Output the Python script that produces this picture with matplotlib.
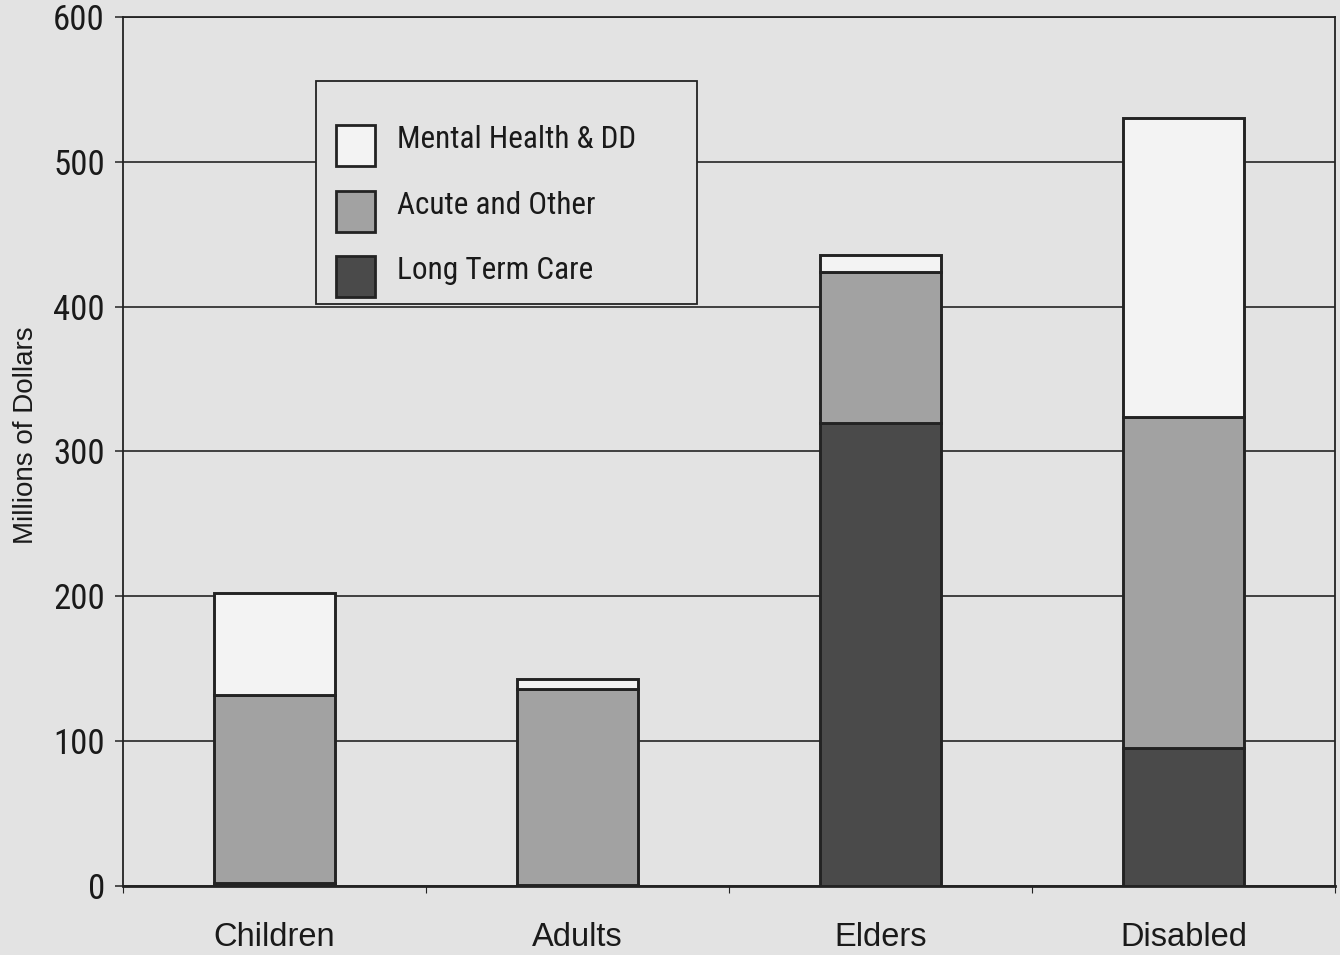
import matplotlib
matplotlib.use("Agg")
import matplotlib.pyplot as plt
from matplotlib import font_manager
from matplotlib.patches import Rectangle
from matplotlib.ticker import FixedLocator
import numpy as np

# Spending by client group, millions of dollars
groups = ["Children", "Adults", "Elders", "Disabled"]
long_term_care = [2, 1, 320, 95]
acute_other = [130, 135, 104, 229]
mental_health_dd = [70, 7, 12, 206]

series_names = ["Mental Health & DD", "Acute and Other", "Long Term Care"]
y_ticks = [0, 100, 200, 300, 400, 500, 600]
y_label = "Millions of Dollars"

installed = {f.name for f in font_manager.fontManager.ttflist}
base_font = "Liberation Sans" if "Liberation Sans" in installed else "DejaVu Sans"

# prefer a condensed face for the tick and legend text
narrow_font = None
for cand in ("Liberation Sans Narrow", "Arial Narrow", "Roboto Condensed",
             "Open Sans Condensed", "Nimbus Sans Narrow"):
    if cand in installed:
        narrow_font = cand
        break

if narrow_font is not None:
    tick_font, tick_size = narrow_font, 25
    legend_font, legend_size = narrow_font, 22.5
else:
    tick_font, tick_size = base_font, 22
    legend_font, legend_size = base_font, 19.5
cat_font, cat_size = base_font, 23.5

plt.rcParams["font.family"] = [base_font, "DejaVu Sans"]

paper = "#e3e3e3"
ink = "#232323"
text_col = "#1a1a1a"
fill_mh = "#f3f3f3"
fill_acute = "#a2a2a2"
fill_ltc = "#4a4a4a"

fig = plt.figure(figsize=(13.4, 9.55), dpi=100, facecolor=paper)
ax = fig.add_axes([0.0918, 0.0723, 0.9045, 0.9099])
ax.set_facecolor(paper)

x = np.arange(len(groups))
width = 0.4
bar_kw = dict(width=width, edgecolor=ink, linewidth=2.1, zorder=3)

ltc = np.array(long_term_care, dtype=float)
acu = np.array(acute_other, dtype=float)
mh = np.array(mental_health_dd, dtype=float)

ax.bar(x, ltc, color=fill_ltc, **bar_kw)
ax.bar(x, acu, bottom=ltc, color=fill_acute, **bar_kw)
ax.bar(x, mh, bottom=ltc + acu, color=fill_mh, **bar_kw)

ax.set_xlim(-0.5, len(groups) - 0.5)
ax.set_ylim(0, 600)

# horizontal grid behind the bars
ax.set_yticks(y_ticks)
ax.yaxis.grid(True, color="#333333", linewidth=1.3, zorder=0)
ax.set_axisbelow(True)

ax.set_xticks(x)
ax.set_xticklabels(groups, fontsize=cat_size, family=cat_font, color=text_col)
ax.tick_params(axis="x", which="major", length=0, pad=26)
ax.xaxis.set_minor_locator(FixedLocator(np.arange(-0.5, len(groups), 1.0)))
ax.tick_params(axis="x", which="minor", direction="out", length=5, width=0.8, color=ink)

ax.tick_params(axis="y", direction="out", length=6, width=1.1, color=ink, pad=7)
for lab in ax.get_yticklabels():
    lab.set_fontfamily(tick_font)
    lab.set_fontsize(tick_size)
    lab.set_color(text_col)

for side in ["left", "right", "top"]:
    ax.spines[side].set_color(ink)
    ax.spines[side].set_linewidth(1.3)
ax.spines["bottom"].set_color(ink)
ax.spines["bottom"].set_linewidth(2.0)

ax.set_ylabel(y_label, fontsize=20, color=text_col)
ax.yaxis.set_label_coords(-0.069, 0.519)

# legend box: frame, swatches and labels placed in axes fractions
frame = Rectangle((0.159, 0.670), 0.3145, 0.256, transform=ax.transAxes,
                  facecolor=paper, edgecolor=ink, linewidth=1.3, zorder=4)
ax.add_patch(frame)
sw_left, sw_w, sw_h = 0.1757, 0.0322, 0.0472
row_tops = [0.8757, 0.8000, 0.7250]
for name, col, top in zip(series_names, (fill_mh, fill_acute, fill_ltc), row_tops):
    ax.add_patch(Rectangle((sw_left, top - sw_h), sw_w, sw_h, transform=ax.transAxes,
                           facecolor=col, edgecolor=ink, linewidth=2.0, zorder=5))
    ax.text(0.2261, top - 0.0265, name, transform=ax.transAxes, ha="left",
            va="baseline", family=legend_font, fontsize=legend_size,
            color=text_col, zorder=6)

fig.savefig("out.png", dpi=100, facecolor=paper)
